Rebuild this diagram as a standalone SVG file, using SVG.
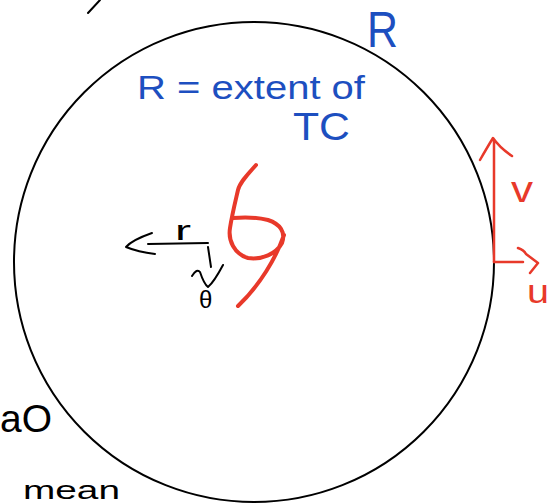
<svg xmlns="http://www.w3.org/2000/svg" width="560" height="504" viewBox="0 0 560 504">
<style>
.ink{fill:none;stroke-linecap:round;stroke-linejoin:round}
.blk{stroke:#000;stroke-width:2}
.red{stroke:#e8392a;stroke-width:2.5}
.redthick{stroke:#e8392a;stroke-width:4}
.t{font-family:"Liberation Sans","DejaVu Sans",sans-serif}
.tb{fill:#1d4fc0}
.tr{fill:#e8392a}
.tk{fill:#000}
</style>
<rect width="560" height="504" fill="#fff"/>
<g id="circle">
<circle cx="254" cy="262" r="240" class="ink blk"/>
</g>
<g id="tc-symbol">
<path class="ink redthick" d="M256,165 C248,174 240,182 238,190 C235,203 232,215 230,228 C228,240 234,254 248,258 C262,260 276,254 282,243 C286,232 280,224 268,220 C256,217 244,217 233,218 M284,235 C276,258 260,285 238,306"/>
</g>
<g id="connectors">
<path class="ink blk" d="M148,244 L208,243 M152,233 Q132,240 126,247 Q138,252 155,254"/>
<path class="ink blk" d="M208,247 L211,267 M192,276 Q197,268 200,272 Q204,284 208,287 Q214,282 223,265"/>
<path class="ink red" d="M494,262 L494,140 M480,160 Q488,146 493,138 Q500,148 512,156"/>
<path class="ink red" d="M494,262 L523,262 M518,248 Q524,250 526,254 L538,263 L530,273"/>
<path class="ink blk" d="M88,13 L100,0"/>
</g>
<g id="labels">
<text class="t tb" x="137" y="99" font-size="34" textLength="228" lengthAdjust="spacingAndGlyphs">R = extent of</text>
<text class="t tb" x="293" y="140" font-size="38" textLength="57" lengthAdjust="spacingAndGlyphs">TC</text>
<text class="t tb" x="367" y="47" font-size="50" textLength="31" lengthAdjust="spacingAndGlyphs">R</text>
<text class="t tr" x="511" y="202" font-size="36" textLength="22" lengthAdjust="spacingAndGlyphs">v</text>
<text class="t tr" x="527" y="303" font-size="34" textLength="22" lengthAdjust="spacingAndGlyphs">u</text>
<text class="t tk" x="175" y="240" font-size="28" textLength="16" lengthAdjust="spacingAndGlyphs">r</text>
<text class="t tk" x="199" y="308" font-size="24">θ</text>
<text class="t tk" x="23" y="499" font-size="26" textLength="97" lengthAdjust="spacingAndGlyphs">mean</text>
<text class="t tk" x="0" y="432" font-size="38" textLength="52" lengthAdjust="spacingAndGlyphs">aO</text>
</g>
</svg>
